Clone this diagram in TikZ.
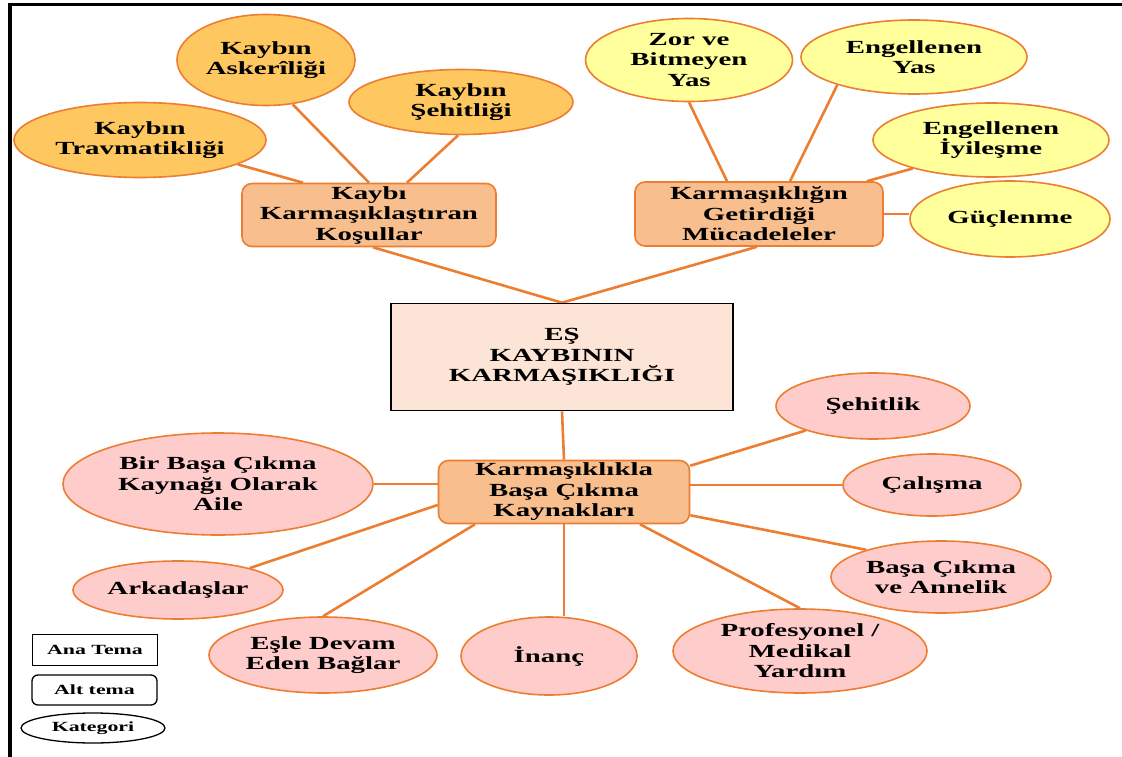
\documentclass[tikz,border=0pt]{standalone}
\usepackage{fontspec}
\setmainfont{Liberation Serif}[FakeStretch=1.56]
\usetikzlibrary{shapes.geometric,backgrounds}
\definecolor{edgeorange}{HTML}{ED7D31}
\definecolor{goldfill}{HTML}{FFC75F}
\definecolor{yellowfill}{HTML}{FFFF9C}
\definecolor{pinkfill}{HTML}{FFCCCC}
\definecolor{subfill}{HTML}{F8BE8E}
\definecolor{mainfill}{HTML}{FCE5D6}
\tikzset{
  txt/.style={font=\fontsize{18.5}{20.5}\selectfont\bfseries, align=center, text=black},
  cat/.style={txt, ellipse, draw=edgeorange, line width=1.6pt, inner sep=0pt},
  catA/.style={cat, fill=goldfill},
  catB/.style={cat, fill=yellowfill},
  catC/.style={cat, fill=pinkfill},
  subtheme/.style={txt, draw=edgeorange, line width=1.6pt, fill=subfill, rounded corners=10pt, inner sep=0pt},
  maintheme/.style={txt, draw=black, line width=1.6pt, fill=mainfill, inner sep=0pt},
  link/.style={draw=edgeorange, line width=2.6pt},
  legtxt/.style={font=\fontsize{14}{16}\selectfont\bfseries, align=center, draw=black, line width=1.3pt, fill=white, inner sep=0pt},
}
\begin{document}
\begin{tikzpicture}[x=1pt,y=-1pt]
\useasboundingbox (0,0) rectangle (1122,757);
% frame lines
\draw[line width=3pt] (10,5) -- (1122,5);
\draw[line width=4pt] (10,3.5) -- (10,757);

% main theme
\node[maintheme, minimum width=342pt, minimum height=107pt] (main) at (562,357) {EŞ\\KAYBININ\\KARMAŞIKLIĞI};

% sub themes
\node[subtheme, minimum width=254pt, minimum height=63pt] (r1) at (369,215) {Kaybı\\Karmaşıklaştıran\\Koşullar};
\node[subtheme, minimum width=248pt, minimum height=64pt] (r2) at (759,214) {Karmaşıklığın\\Getirdiği\\Mücadeleler};
\node[subtheme, minimum width=251pt, minimum height=63pt] (r3) at (564,492) {Karmaşıklıkla\\Başa Çıkma\\Kaynakları};

% categories of the first sub theme
\node[catA, minimum width=178pt, minimum height=91pt] (ask) at (266,60) {Kaybın\\Askerîliği};
\node[catA, minimum width=224pt, minimum height=65pt] (seh) at (461,102) {Kaybın\\Şehitliği};
\node[catA, minimum width=252pt, minimum height=75pt] (trav) at (140,140) {Kaybın\\Travmatikliği};

% categories of the second sub theme
\node[catB, minimum width=207pt, minimum height=83pt] (zor) at (689,60) {Zor ve\\Bitmeyen\\Yas};
\node[catB, minimum width=226pt, minimum height=74pt] (eyas) at (914,57) {Engellenen\\Yas};
\node[catB, minimum width=236pt, minimum height=74pt] (eiyi) at (991,140) {Engellenen\\İyileşme};
\node[catB, minimum width=200pt, minimum height=76pt] (guc) at (1010,219) {Güçlenme};

% categories of the third sub theme
\node[catC, minimum width=194pt, minimum height=66pt] (sehit) at (873,406) {Şehitlik};
\node[catC, minimum width=178pt, minimum height=62pt] (cal) at (932,485) {Çalışma};
\node[catC, minimum width=220pt, minimum height=72pt] (anne) at (941,577) {Başa Çıkma\\ve Annelik};
\node[catC, minimum width=254pt, minimum height=84pt] (prof) at (800,651) {Profesyonel /\\Medikal\\Yardım};
\node[catC, minimum width=176pt, minimum height=78pt] (inanc) at (549,656) {İnanç};
\node[catC, minimum width=228pt, minimum height=76pt] (bag) at (323,655) {Eşle Devam\\Eden Bağlar};
\node[catC, minimum width=210pt, minimum height=58pt] (ark) at (178,590) {Arkadaşlar};
\node[catC, minimum width=310pt, minimum height=102pt] (aile) at (218,484) {Bir Başa Çıkma\\Kaynağı Olarak\\Aile};

% legend
\node[legtxt, minimum width=125pt, minimum height=31pt] (lmain) at (95,650) {Ana Tema};
\node[legtxt, rounded corners=6pt, minimum width=125pt, minimum height=30pt] (lsub) at (94.5,690) {Alt tema};
\node[legtxt, ellipse, minimum width=144pt, minimum height=30pt] (lcat) at (93,728) {Kategori};

% connectors, kept behind the shapes
\begin{scope}[on background layer]
  \draw[link] (trav.-14) -- ([xshift=-66pt]r1.north);
  \draw[link] (ask.-59) -- (r1.north);
  \draw[link] (seh.-95) -- ([xshift=38pt]r1.north);
  \draw[link] ([xshift=4pt]r1.south) -- (main.north);

  \draw[link] (zor.south) -- ([xshift=-32pt]r2.north);
  \draw[link] (eyas.-160) -- ([xshift=31pt]r2.north);
  \draw[link] (eiyi.-160) -- ([xshift=-17pt]r2.north east);
  \draw[link] (r2.east) -- (r2.east -| guc.west);
  \draw[link] ([xshift=-2pt]r2.south) -- (main.north);

  \draw[link] (main.south) -- (r3.north);

  \draw[link] ([yshift=-6pt]r3.north east) -- (sehit.-160);
  \draw[link] (cal.west -| r3.east) -- (cal.west);
  \draw[link] ([yshift=9pt]r3.south east) -- (anne.160);
  \draw[link] ([xshift=76pt]r3.south) -- (prof.north);
  \draw[link] (r3.south) -- (r3.south |- inanc.north);
  \draw[link] ([xshift=-89pt]r3.south) -- (bag.north);
  \draw[link] ([yshift=-13pt]r3.west) -- (ark.17);
  \draw[link] (aile.east) -- (aile.east -| r3.west);
\end{scope}
\end{tikzpicture}
\end{document}
